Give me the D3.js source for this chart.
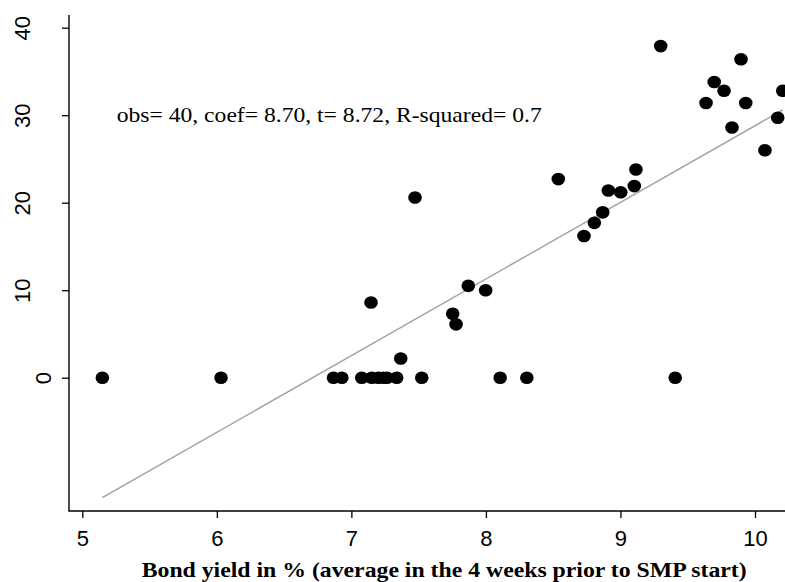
<!DOCTYPE html>
<html>
<head>
<meta charset="utf-8">
<script src="https://cdn.jsdelivr.net/npm/d3@7"></script>
<style>
  html, body { margin: 0; padding: 0; background: #fff; }
  svg { display: block; }
</style>
</head>
<body>
<svg id="chart" width="785" height="582"></svg>
<script>
// Bond yield (%) in the 4 weeks prior to SMP start
const bondYield = [
  5.149, 6.031, 6.867, 6.929, 7.077, 7.152, 7.20, 7.238, 7.265, 7.337, 7.523, 8.106, 8.304, 9.407,
  7.367, 7.146, 7.473, 8.538, 9.115, 9.103, 8.910, 9.002, 8.868, 8.806, 8.729,
  7.869, 7.998, 7.753, 7.778,
  9.299, 9.896, 9.697, 9.770, 9.636, 9.931, 10.206, 10.169, 9.829, 10.074
];
// Outcome values
const outcome = [
  0, 0, 0, 0, 0, 0, 0, 0, 0, 0, 0, 0, 0, 0,
  2.2, 8.6, 20.6, 22.7, 23.8, 21.9, 21.4, 21.2, 18.9, 17.7, 16.2,
  10.5, 10.0, 7.3, 6.1,
  37.9, 36.4, 33.8, 32.8, 31.4, 31.4, 32.8, 29.7, 28.6, 26.0
];
const xTicks = [5, 6, 7, 8, 9, 10];
const yTicks = [0, 10, 20, 30, 40];
const fitSlope = 8.76;
const fitIntercept = -58.8;
const annotation = "obs= 40, coef= 8.70, t= 8.72, R-squared= 0.7";
const xTitle = "Bond yield in % (average in the 4 weeks prior to SMP start)";

const svg = d3.select("#chart");
const x = d3.scaleLinear().domain([5, 10]).range([82.3, 755]);
const y = d3.scaleLinear().domain([0, 40]).range([377.7, 27.7]);
const plotLeft = 69, plotRight = 785, plotTop = 15, plotBottom = 511;

// axes lines
svg.append("line").attr("x1", plotLeft).attr("x2", plotLeft).attr("y1", plotTop).attr("y2", plotBottom)
  .attr("stroke", "#000").attr("stroke-width", 1.4);
svg.append("line").attr("x1", plotLeft - 0.7).attr("x2", plotRight).attr("y1", plotBottom).attr("y2", plotBottom)
  .attr("stroke", "#000").attr("stroke-width", 1.4);

const xAxis = svg.append("g").attr("transform", `translate(0,${plotBottom})`)
  .call(d3.axisBottom(x).tickValues(xTicks).tickSize(7).tickSizeOuter(0).tickPadding(12).tickFormat(d3.format("d")));
xAxis.select(".domain").remove();
xAxis.selectAll(".tick line").attr("stroke", "#000").attr("stroke-width", 1.3);
xAxis.selectAll(".tick text").attr("font-family", "Liberation Sans, Arial, sans-serif")
  .attr("font-size", 22).attr("fill", "#000").attr("dy", null).attr("y", 34.7);

const yAxis = svg.append("g").attr("transform", `translate(${plotLeft},0)`)
  .call(d3.axisLeft(y).tickValues(yTicks).tickSize(7).tickSizeOuter(0).tickFormat(d3.format("d")));
yAxis.select(".domain").remove();
yAxis.selectAll(".tick line").attr("stroke", "#000").attr("stroke-width", 1.3);
yAxis.selectAll(".tick text")
  .attr("font-family", "Liberation Sans, Arial, sans-serif").attr("font-size", 22).attr("fill", "#000")
  .attr("x", null).attr("dy", null)
  .attr("text-anchor", "middle")
  .attr("transform", d => `translate(${d === 0 ? -18 : -39},0) rotate(-90)`);

// fit line
const xMin = d3.min(bondYield), xMax = d3.max(bondYield);
svg.append("line")
  .attr("x1", x(xMin)).attr("y1", y(fitIntercept + fitSlope * xMin))
  .attr("x2", x(xMax)).attr("y2", y(fitIntercept + fitSlope * xMax))
  .attr("stroke", "#a0a0a0").attr("stroke-width", 1.4);

// points
svg.append("g").selectAll("ellipse").data(bondYield.map((d, i) => [d, outcome[i]])).join("ellipse")
  .attr("cx", d => x(d[0])).attr("cy", d => y(d[1]))
  .attr("rx", 6.8).attr("ry", 6.3).attr("fill", "#000");

// annotation
svg.append("text").attr("x", 116.7).attr("y", 121.7)
  .attr("font-family", "Liberation Serif, Times New Roman, serif").attr("font-size", 21.5).attr("fill", "#000")
  .attr("textLength", 425).attr("lengthAdjust", "spacingAndGlyphs")
  .text(annotation);

// x title
svg.append("text").attr("x", 141.7).attr("y", 576.7)
  .attr("font-family", "Liberation Serif, Times New Roman, serif").attr("font-size", 21.5)
  .attr("font-weight", "bold").attr("fill", "#000")
  .attr("textLength", 605).attr("lengthAdjust", "spacingAndGlyphs")
  .text(xTitle);
</script>
</body>
</html>
